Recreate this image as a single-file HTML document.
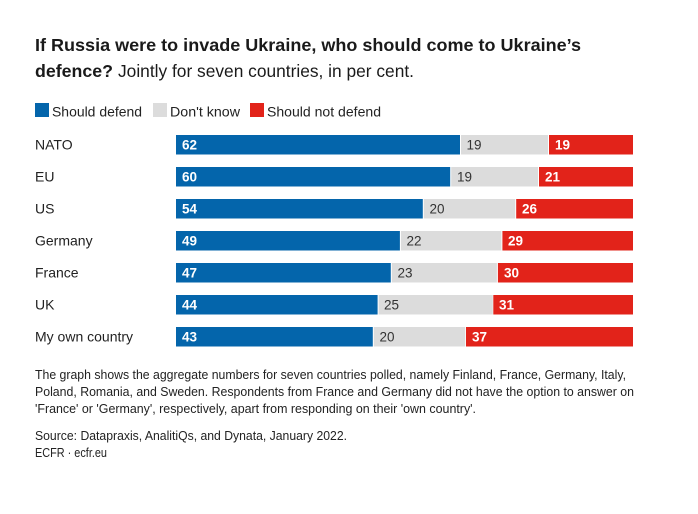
<!DOCTYPE html>
<html><head><meta charset="utf-8"><style>
html,body{margin:0;padding:0;background:#fff;}
svg{display:block;}
text{font-family:"Liberation Sans",Arial,sans-serif;}
</style></head><body>
<svg width="698" height="514" viewBox="0 0 698 514" xmlns="http://www.w3.org/2000/svg">
<rect width="698" height="514" fill="#fff"/>
<!-- Title -->
<text x="35" y="51" font-size="17.5" font-weight="bold" fill="#1a1a1a" textLength="546" lengthAdjust="spacingAndGlyphs">If Russia were to invade Ukraine, who should come to Ukraine’s</text>
<text x="35" y="77" font-size="17.5" font-weight="bold" fill="#1a1a1a" textLength="78" lengthAdjust="spacingAndGlyphs">defence?</text>
<text x="118" y="77" font-size="17.5" fill="#1a1a1a" textLength="296" lengthAdjust="spacingAndGlyphs">Jointly for seven countries, in per cent.</text>
<!-- Legend -->
<rect x="35" y="103" width="14" height="14" fill="#0465ab"/>
<text x="52" y="116.5" font-size="14" fill="#222" textLength="90" lengthAdjust="spacingAndGlyphs">Should defend</text>
<rect x="153" y="103" width="14" height="14" fill="#dcdcdc"/>
<text x="170" y="116.5" font-size="14" fill="#222" textLength="70" lengthAdjust="spacingAndGlyphs">Don't know</text>
<rect x="250" y="103" width="14" height="14" fill="#e2231a"/>
<text x="267" y="116.5" font-size="14" fill="#222" textLength="114" lengthAdjust="spacingAndGlyphs">Should not defend</text>

<g font-size="14" fill="#222">
<text x="35" y="149.5">NATO</text>
<text x="35" y="181.5">EU</text>
<text x="35" y="213.5">US</text>
<text x="35" y="245.5">Germany</text>
<text x="35" y="277.5">France</text>
<text x="35" y="309.5">UK</text>
<text x="35" y="341.5">My own country</text>
</g>

<!-- Bars -->
<g>
<rect x="176" y="135" width="284" height="19.5" fill="#0465ab"/>
<rect x="461" y="135" width="87" height="19.5" fill="#dcdcdc"/>
<rect x="549" y="135" width="84" height="19.5" fill="#e2231a"/>
<rect x="176" y="167" width="274.2" height="19.5" fill="#0465ab"/>
<rect x="451.2" y="167" width="86.8" height="19.5" fill="#dcdcdc"/>
<rect x="539" y="167" width="94" height="19.5" fill="#e2231a"/>
<rect x="176" y="199" width="246.8" height="19.5" fill="#0465ab"/>
<rect x="423.8" y="199" width="91.4" height="19.5" fill="#dcdcdc"/>
<rect x="516.2" y="199" width="116.8" height="19.5" fill="#e2231a"/>
<rect x="176" y="231" width="223.9" height="19.5" fill="#0465ab"/>
<rect x="400.9" y="231" width="100.5" height="19.5" fill="#dcdcdc"/>
<rect x="502.4" y="231" width="130.6" height="19.5" fill="#e2231a"/>
<rect x="176" y="263" width="214.8" height="19.5" fill="#0465ab"/>
<rect x="391.8" y="263" width="105.1" height="19.5" fill="#dcdcdc"/>
<rect x="497.9" y="263" width="135.1" height="19.5" fill="#e2231a"/>
<rect x="176" y="295" width="201.6" height="19.5" fill="#0465ab"/>
<rect x="378.6" y="295" width="114.2" height="19.5" fill="#dcdcdc"/>
<rect x="493.3" y="295" width="139.7" height="19.5" fill="#e2231a"/>
<rect x="176" y="327" width="196.8" height="19.5" fill="#0465ab"/>
<rect x="373.8" y="327" width="91.4" height="19.5" fill="#dcdcdc"/>
<rect x="466" y="327" width="167" height="19.5" fill="#e2231a"/>
</g>

<!-- Values -->
<g font-size="13.5" font-weight="bold" fill="#fff">
<text x="182" y="149.5">62</text>
<text x="182" y="181.5">60</text>
<text x="182" y="213.5">54</text>
<text x="182" y="245.5">49</text>
<text x="182" y="277.5">47</text>
<text x="182" y="309.5">44</text>
<text x="182" y="341.5">43</text>
<text x="555" y="149.5">19</text>
<text x="545" y="181.5">21</text>
<text x="522" y="213.5">26</text>
<text x="508" y="245.5">29</text>
<text x="504" y="277.5">30</text>
<text x="499" y="309.5">31</text>
<text x="472" y="341.5">37</text>
</g>
<g font-size="13.5" fill="#333">
<text x="466.5" y="149.5">19</text>
<text x="457" y="181.5">19</text>
<text x="429.5" y="213.5">20</text>
<text x="406.5" y="245.5">22</text>
<text x="397.5" y="277.5">23</text>
<text x="384" y="309.5">25</text>
<text x="379.5" y="341.5">20</text>
</g>

<!-- Notes -->
<g font-size="12.5" fill="#222">
<text x="35" y="379" textLength="591" lengthAdjust="spacingAndGlyphs">The graph shows the aggregate numbers for seven countries polled, namely Finland, France, Germany, Italy,</text>
<text x="35" y="396" textLength="599" lengthAdjust="spacingAndGlyphs">Poland, Romania, and Sweden. Respondents from France and Germany did not have the option to answer on</text>
<text x="35" y="413" textLength="441" lengthAdjust="spacingAndGlyphs">'France' or 'Germany', respectively, apart from responding on their 'own country'.</text>
<text x="35" y="440" textLength="312" lengthAdjust="spacingAndGlyphs">Source: Datapraxis, AnalitiQs, and Dynata, January 2022.</text>
<text x="35" y="457" textLength="72" lengthAdjust="spacingAndGlyphs">ECFR · ecfr.eu</text>
</g>
</svg>
</body></html>
